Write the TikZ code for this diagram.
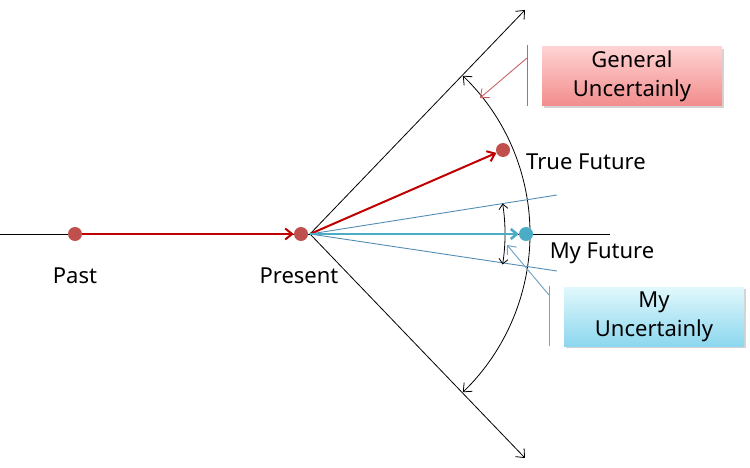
\documentclass[tikz,border=0pt]{standalone}
\usepackage{fontspec}
\setmainfont{Noto Sans}
\usetikzlibrary{arrows.meta,shadows,calc}
\definecolor{dotred}{RGB}{192,80,77}
\definecolor{arrred}{RGB}{192,0,0}
\definecolor{dotblue}{RGB}{75,172,198}
\definecolor{lineblue}{RGB}{84,141,180}
\definecolor{callred}{RGB}{200,100,100}
\definecolor{pinktop}{RGB}{255,210,210}
\definecolor{pinkbot}{RGB}{242,140,140}
\definecolor{cyantop}{RGB}{225,248,252}
\definecolor{cyanbot}{RGB}{140,215,238}
\begin{document}
\begin{tikzpicture}[x=1pt,y=1pt,
  dot/.style={circle,inner sep=0pt,minimum size=14pt},
  thin black/.style={draw=black,line width=0.8pt},
  barb/.style={-{Straight Barb[length=7pt,width=12pt]}},
  dbarb/.style={{Straight Barb[length=7pt,width=12pt]}-{Straight Barb[length=7pt,width=12pt]}},
  lbl/.style={font=\fontsize{22}{26}\selectfont,inner sep=0pt},
  callbox/.style={minimum width=180pt,minimum height=59pt,align=center,
    font=\fontsize{22}{29}\selectfont,
    drop shadow={opacity=0.35,shadow xshift=2pt,shadow yshift=-2pt}}
]
\useasboundingbox (0,0) rectangle (750,467);
% coordinates
\coordinate (L0) at (0,233);
\coordinate (L1) at (610,233);
\coordinate (P) at (310,233);
\coordinate (ue) at (525,457);
\coordinate (le) at (525,9);
\coordinate (bu) at (557,272);
\coordinate (bl) at (557,196);
% base horizontal line
\draw[thin black] (L0) -- (L1);
% big cone lines
\draw[thin black,barb] (P) -- (ue);
\draw[thin black,barb] (P) -- (le);
% general uncertainty arc
\draw[thin black,dbarb] ($(P)+(46:220pt)$) arc[start angle=46,end angle=-46,radius=220pt];
% my uncertainty thin lines
\draw[lineblue,line width=0.9pt] (P) -- (bu);
\draw[lineblue,line width=0.9pt] (P) -- (bl);
% my uncertainty small arc
\draw[thin black,{Straight Barb[length=5pt,width=9pt]}-{Straight Barb[length=5pt,width=9pt]}] ($(P)+(9:195pt)$) arc[start angle=9,end angle=-9,radius=195pt];
% dots
\node[dot,fill=dotred] (past) at (75,233) {};
\node[dot,fill=dotred] (present) at (301,233) {};
\node[dot,fill=dotred] (truef) at (503,317) {};
\node[dot,fill=dotblue] (myf) at (526,233) {};
% arrows
\draw[arrred,line width=2pt,-{Straight Barb[length=7pt,width=11pt]}] (past) -- (present);
\draw[arrred,line width=2pt,-{Straight Barb[length=7pt,width=11pt]}] (P) -- (truef);
\draw[dotblue,line width=2.6pt,-{Straight Barb[length=6pt,width=10pt]}] (P) -- (myf);
% labels
\node[lbl] (tpast) at (75,191) {Past};
\node[lbl] (tpresent) at (299,191) {Present};
\node[lbl] (ttrue) at (586,305) {True Future};
\node[lbl] (tmy) at (602,214) {My Future};
% general callout
\node[callbox,top color=pinktop,bottom color=pinkbot] (gen) at (632,390.5) {General\\Uncertainly};
\coordinate (gtop) at (527,422);
\coordinate (gbot) at (527,361);
\coordinate (gsrc) at (527,409);
\coordinate (gtip) at (480,369);
\draw[callred,line width=1pt] (gtop) -- (gbot);
\draw[callred,line width=0.9pt,-{Straight Barb[length=7pt,width=12pt]}] (gsrc) -- (gtip);
% my callout
\node[callbox,top color=cyantop,bottom color=cyanbot] (myc) at (654,150.5) {My\\Uncertainly};
\coordinate (mtop) at (549,181);
\coordinate (mbot) at (549,121);
\coordinate (msrc) at (549,172);
\coordinate (mtip) at (507,222);
\draw[lineblue!80,line width=1pt] (mtop) -- (mbot);
\draw[lineblue!80,line width=1pt,-{Straight Barb[length=7pt,width=12pt]}] (msrc) -- (mtip);
\end{tikzpicture}
\end{document}
